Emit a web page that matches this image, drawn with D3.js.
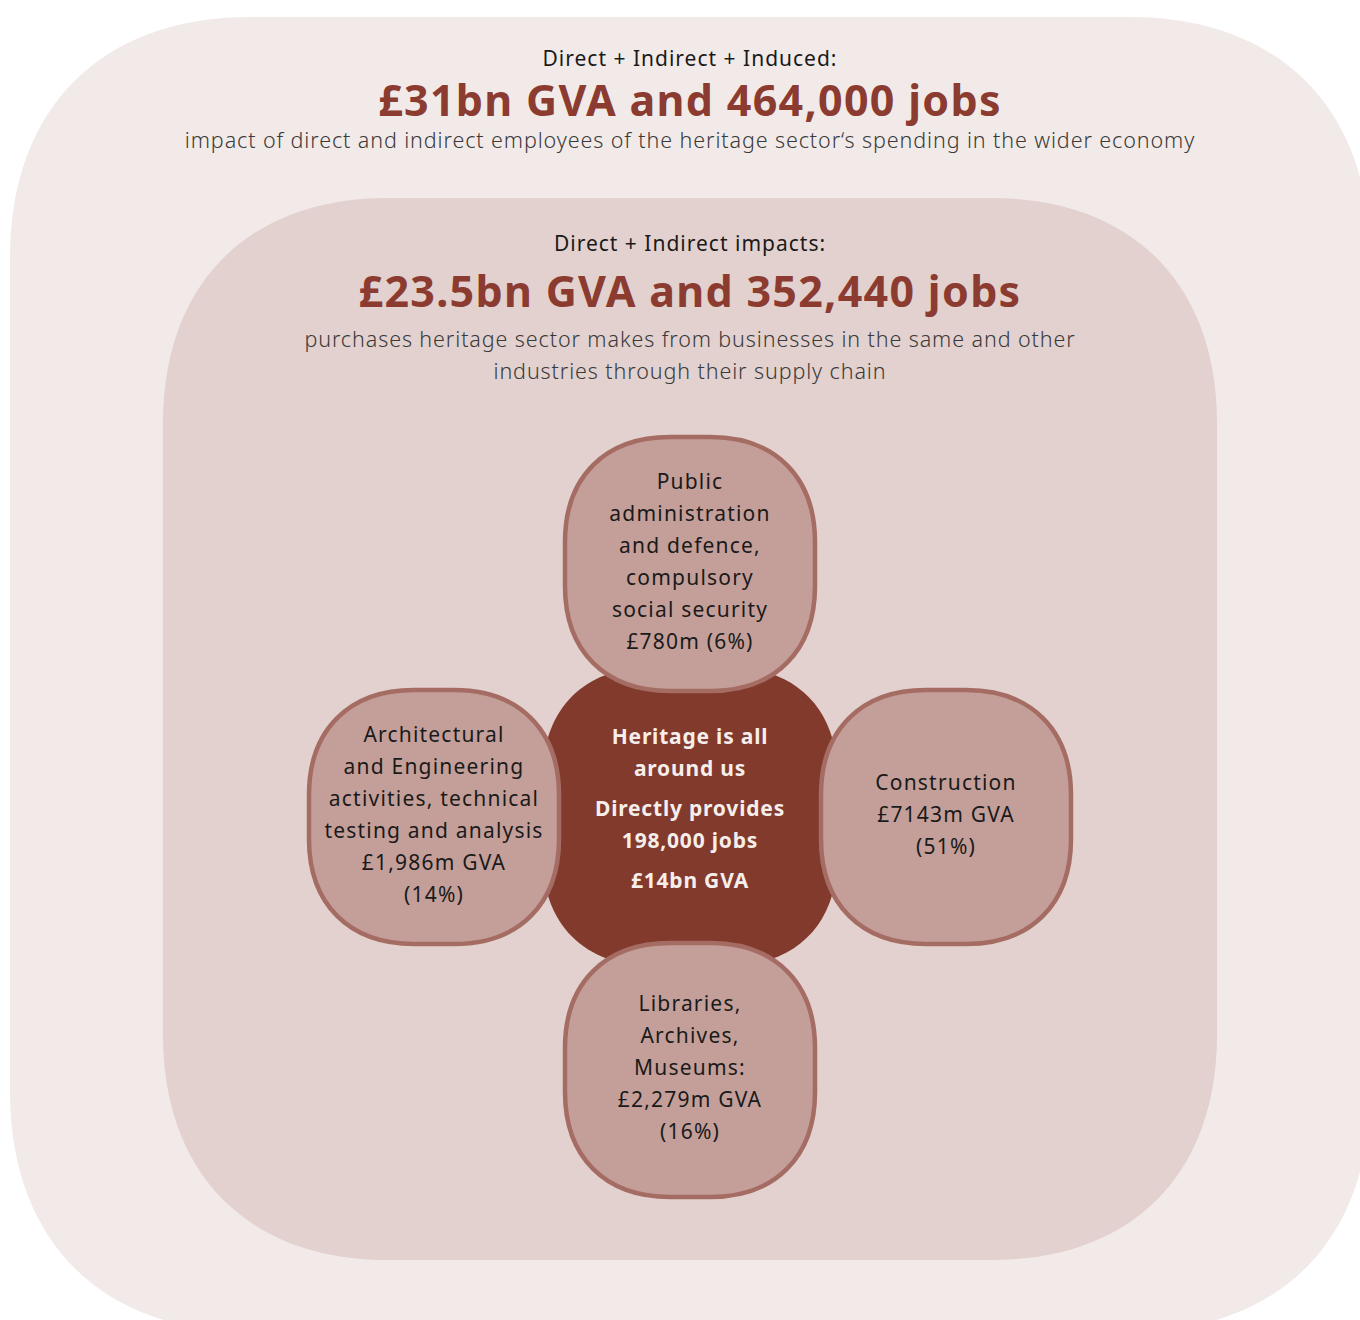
<!DOCTYPE html>
<html>
<head>
<meta charset="utf-8">
<script src="https://cdn.jsdelivr.net/npm/d3@7"></script>
<style>
  body { margin: 0; background: #fff; }
  svg text { font-family: "Source Sans Pro", "Noto Sans", sans-serif; }
</style>
</head>
<body>
<div id="chart"></div>
<script>
// headline figures
var rings = ["outer", "inner"];
var ringIntro = ["Direct + Indirect + Induced:", "Direct + Indirect impacts:"];
var ringHeadline = ["£31bn GVA and 464,000 jobs", "£23.5bn GVA and 352,440 jobs"];
var ringNote = [
  ["impact of direct and indirect employees of the heritage sector‘s spending in the wider economy"],
  ["purchases heritage sector makes from businesses in the same and other", "industries through their supply chain"]
];

// sectors round the core
var sectorSlot = ["top", "left", "right", "bottom"];
var sectorName = [
  ["Public", "administration", "and defence,", "compulsory", "social security"],
  ["Architectural", "and Engineering", "activities, technical", "testing and analysis"],
  ["Construction"],
  ["Libraries,", "Archives,", "Museums:"]
];
var sectorValue = [
  ["£780m (6%)"],
  ["£1,986m GVA", "(14%)"],
  ["£7143m GVA", "(51%)"],
  ["£2,279m GVA", "(16%)"]
];

// core
var coreLines = ["Heritage is all", "around us", "Directly provides", "198,000 jobs", "£14bn GVA"];
var coreGap = [0, 32, 40, 32, 40];

var W = 1360, H = 1320;
var svg = d3.select("#chart").append("svg").attr("width", W).attr("height", H);

// rounded "squircle" box path
function squircle(x, y, w, h, r, k) {
  var c = r * k;
  var p = d3.path();
  p.moveTo(x + r, y);
  p.lineTo(x + w - r, y);
  p.bezierCurveTo(x + w - r + c, y, x + w, y + r - c, x + w, y + r);
  p.lineTo(x + w, y + h - r);
  p.bezierCurveTo(x + w, y + h - r + c, x + w - r + c, y + h, x + w - r, y + h);
  p.lineTo(x + r, y + h);
  p.bezierCurveTo(x + r - c, y + h, x, y + h - r + c, x, y + h - r);
  p.lineTo(x, y + r);
  p.bezierCurveTo(x, y + r - c, x + r - c, y, x + r, y);
  p.closePath();
  return p.toString();
}

// nested rings
var ringBox = [
  {x: 10, y: 17, w: 1360, h: 1315, r: 240, fill: "#f2eae8"},
  {x: 163, y: 198, w: 1054, h: 1062, r: 225, fill: "#e2d1ce"}
];
var ringTop = [66, 251];

svg.selectAll("path.ring").data(rings).enter().append("path")
  .attr("class", "ring")
  .attr("d", function(d, i) { var b = ringBox[i]; return squircle(b.x, b.y, b.w, b.h, b.r, 0.62); })
  .attr("fill", function(d, i) { return ringBox[i].fill; });

rings.forEach(function(d, i) {
  var g = svg.append("g");
  g.append("text").attr("x", 690).attr("y", ringTop[i])
    .attr("text-anchor", "middle").attr("font-size", "21px").attr("fill", "#1a1a1a")
    .attr("letter-spacing", "1px")
    .text(ringIntro[i]);
  g.append("text").attr("x", 690).attr("y", ringTop[i] + (i == 0 ? 50 : 56))
    .attr("text-anchor", "middle").attr("font-size", "43px").attr("font-weight", "bold")
    .attr("fill", "#8b3b2f").attr("letter-spacing", "1.3px")
    .text(ringHeadline[i]);
  g.selectAll("text.note").data(ringNote[i]).enter().append("text")
    .attr("class", "note")
    .attr("x", 690)
    .attr("y", function(t, j) { return ringTop[i] + (i == 0 ? 82 : 96) + j * 32; })
    .attr("text-anchor", "middle").attr("font-size", "21.5px").attr("font-weight", 300)
    .attr("fill", "#3a3a3a").attr("letter-spacing", "0.9px")
    .text(function(t) { return t; });
});

// layout grid for core + sectors
var col = d3.scalePoint().domain(["left", "center", "right"]).range([434, 946]);
var row = d3.scalePoint().domain(["top", "middle", "bottom"]).range([564, 1070]);
var slotPos = {
  top: ["center", "top"], left: ["left", "middle"],
  right: ["right", "middle"], bottom: ["center", "bottom"]
};

// core block
var coreW = 295, coreH = 299;
svg.append("path")
  .attr("d", squircle(col("center") - coreW / 2, row("middle") - coreH / 2 - 0.5, coreW, coreH, 110, 0.62))
  .attr("fill", "#823a2d");

var coreY = [];
coreLines.forEach(function(t, i) { coreY.push((i ? coreY[i - 1] : 0) + coreGap[i]); });
var coreMid = (coreY[0] + coreY[coreY.length - 1]) / 2;
svg.selectAll("text.core").data(coreLines).enter().append("text")
  .attr("class", "core")
  .attr("x", col("center"))
  .attr("y", function(t, i) { return row("middle") - 8 + coreY[i] - coreMid; })
  .attr("dy", "0.35em")
  .attr("text-anchor", "middle").attr("font-size", "21px").attr("font-weight", "bold")
  .attr("fill", "#f6eeeb").attr("letter-spacing", "0.8px")
  .text(function(t) { return t; });

// sector boxes
var boxW = 250, boxH = 254;
var sectors = svg.selectAll("g.sector").data(sectorSlot).enter().append("g")
  .attr("class", "sector")
  .attr("transform", function(d) { return "translate(" + col(slotPos[d][0]) + "," + row(slotPos[d][1]) + ")"; });

sectors.append("path")
  .attr("d", squircle(-boxW / 2, -boxH / 2, boxW, boxH, 105, 0.62))
  .attr("fill", "#c49f99")
  .attr("stroke", "#a56c63")
  .attr("stroke-width", 4.5);

sectors.each(function(d, i) {
  var lines = sectorName[i].concat(sectorValue[i]);
  var n = lines.length;
  d3.select(this).selectAll("text").data(lines).enter().append("text")
    .attr("x", 0)
    .attr("y", function(t, j) { return (j - (n - 1) / 2) * 32 - 2; })
    .attr("dy", "0.35em")
    .attr("text-anchor", "middle").attr("font-size", "21px")
    .attr("fill", "#1a1a1a").attr("letter-spacing", "1.2px")
    .text(function(t) { return t; });
});
</script>
</body>
</html>
